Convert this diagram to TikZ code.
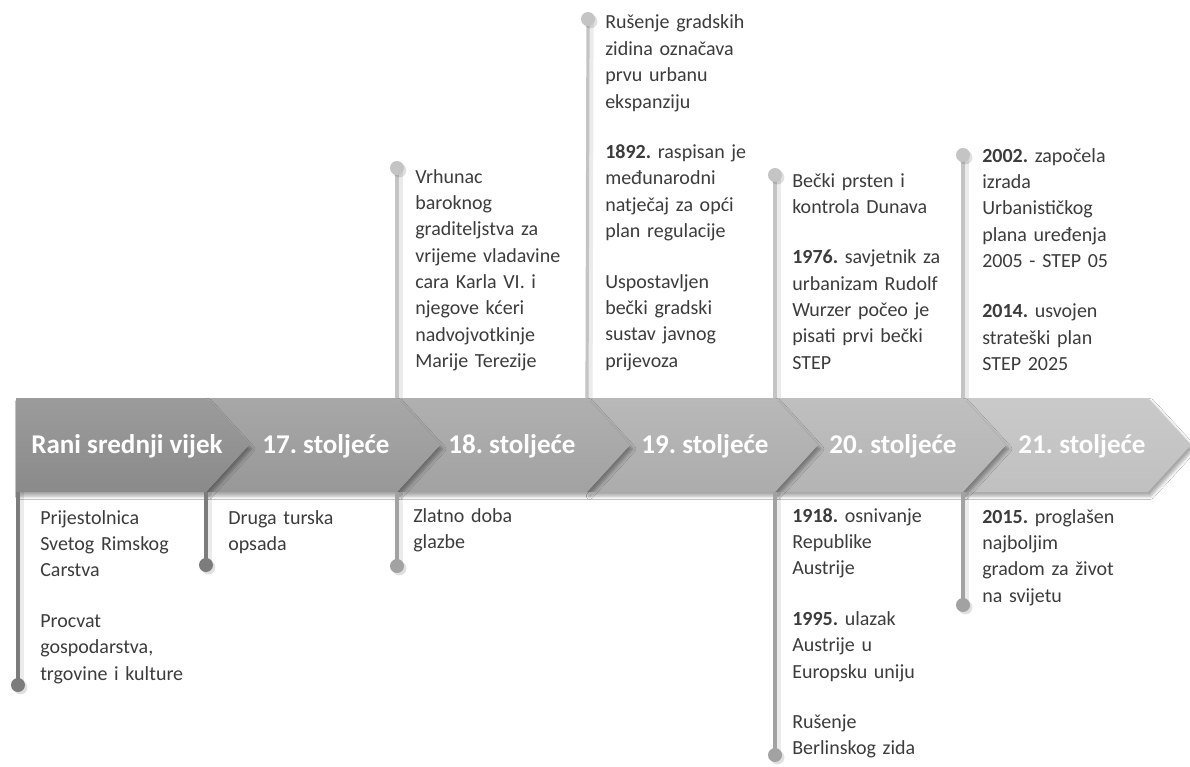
\documentclass[tikz,border=0pt]{standalone}
\usepackage{fontspec}
\setmainfont{Carlito}
\usetikzlibrary{shadows.blur}
\frenchspacing
\definecolor{txtgray}{HTML}{3C3C3C}
\definecolor{segA}{HTML}{8A8A8A}
\definecolor{segB}{HTML}{989898}
\definecolor{segC}{HTML}{A2A2A2}
\definecolor{segD}{HTML}{ACACAC}
\definecolor{segE}{HTML}{B4B4B4}
\definecolor{segF}{HTML}{C0C0C0}
\definecolor{pindark}{HTML}{7C7C7C}
\definecolor{pinmid}{HTML}{A2A2A2}
\definecolor{pinlight}{HTML}{C4C4C4}
\begin{document}
\begin{tikzpicture}[x=0.75pt, y=-0.75pt,
    seg/.style={blur shadow={shadow xshift=2pt, shadow yshift=-3pt, shadow blur radius=2.5pt, shadow opacity=35}},
    segtitle/.style={anchor=base, inner sep=0pt, text=white, font=\fontsize{20.3}{24}\selectfont\bfseries},
    pinline/.style={line width=2.4pt, preaction={draw=black, opacity=0.08, line width=4pt, transform canvas={xshift=2.2pt}}},
    pindot/.style={circle, inner sep=0pt, minimum size=10.5pt, preaction={fill=black, opacity=0.12, transform canvas={shift={(1.8pt,-1.8pt)}}}},
    note/.style={anchor=base west, inner sep=0pt, text width=140pt, align=left, text=txtgray, font=\fontsize{15}{19.8}\selectfont}]
  \useasboundingbox[fill=white] (0,0) rectangle (1190,767);

  % band of centuries, drawn right to left so each tip throws its shadow
  \foreach \xa/\xb/\col in {963/1148/segF, 775/963/segE, 587/775/segD, 397/587/segC, 206/397/segB}
    \path[seg, top color=\col!85!white, bottom color=\col]
      (\xa,398) -- (\xb,398) -- (\xb+43,445) -- (\xb,492) -- (\xa,492) -- (\xa+43,445) -- cycle;
  \path[seg, top color=segA!85!white, bottom color=segA]
    (16,398) -- (206,398) -- (249,445) -- (206,492) -- (16,492) -- cycle;

  \node[segtitle] (h1) at (127,453) {Rani srednji vijek};
  \node[segtitle] (h2) at (326,453) {17. stoljeće};
  \node[segtitle] (h3) at (512,453) {18. stoljeće};
  \node[segtitle] (h4) at (705,453) {19. stoljeće};
  \node[segtitle] (h5) at (893,453) {20. stoljeće};
  \node[segtitle] (h6) at (1082,453) {21. stoljeće};

  % band edges where the pins start
  \coordinate (b1) at (18,492);
  \coordinate (b2) at (206,492);
  \coordinate (b3) at (397,492);
  \coordinate (a3) at (397,398);
  \coordinate (a4) at (587,398);
  \coordinate (a5) at (775,398);
  \coordinate (b5) at (775,492);
  \coordinate (a6) at (963,398);
  \coordinate (b6) at (963,492);

  % pins
  \coordinate (d1) at (18,685);
  \coordinate (d2) at (206,565);
  \coordinate (d3) at (397,566);
  \coordinate (u3) at (397,168);
  \coordinate (u4) at (588,19);
  \coordinate (u5) at (775,175);
  \coordinate (d5) at (775,755);
  \coordinate (u6) at (963,155);
  \coordinate (d6) at (963,605);
  \draw[pinline, pindark] (b1) -- (d1);
  \draw[pinline, pindark] (b2) -- (d2);
  \draw[pinline, pinmid] (b3) -- (d3);
  \draw[pinline, pinlight] (a3) -- (u3);
  \draw[pinline, pinlight] (a4) -- (u4);
  \draw[pinline, pinlight] (a5) -- (u5);
  \draw[pinline, pinmid] (b5) -- (d5);
  \draw[pinline, pinlight] (a6) -- (u6);
  \draw[pinline, pinmid] (b6) -- (d6);
  \node[pindot, fill=pindark] (pd1) at (d1) {};
  \node[pindot, fill=pindark] (pd2) at (d2) {};
  \node[pindot, fill=pinmid] (pd3) at (d3) {};
  \node[pindot, fill=pinlight] (pu3) at (u3) {};
  \node[pindot, fill=pinlight] (pu4) at (u4) {};
  \node[pindot, fill=pinlight] (pu5) at (u5) {};
  \node[pindot, fill=pinmid] (pd5) at (d5) {};
  \node[pindot, fill=pinlight] (pu6) at (u6) {};
  \node[pindot, fill=pinmid] (pd6) at (d6) {};

  % notes below the band
  \node[note] (n1) at (40,524) {Prijestolnica\\Svetog Rimskog\\Carstva\\[18pt]Procvat\\gospodarstva,\\trgovine i kulture};
  \node[note] (n2) at (228,524) {Druga turska\\opsada};
  \node[note] (n3) at (413,522) {Zlatno doba\\glazbe};
  \node[note] (n5) at (792,522) {\textbf{1918.} osnivanje\\Republike\\Austrije\\[18pt]\textbf{1995.} ulazak\\Austrije u\\Europsku uniju\\[18pt]Rušenje\\Berlinskog zida};
  \node[note] (n6) at (982,523) {\textbf{2015.} proglašen\\najboljim\\gradom za život\\na svijetu};

  % notes above the band
  \node[note] (m3) at (415,183) {Vrhunac\\baroknog\\graditeljstva za\\vrijeme vladavine\\cara Karla VI. i\\njegove kćeri\\nadvojvotkinje\\Marije Terezije};
  \node[note] (m4) at (605,29) {Rušenje gradskih\\zidina označava\\prvu urbanu\\ekspanziju\\[18pt]\textbf{1892.} raspisan je\\međunarodni\\natječaj za opći\\plan regulacije\\[18pt]Uspostavljen\\bečki gradski\\sustav javnog\\prijevoza};
  \node[note] (m5) at (792,187) {Bečki prsten i\\kontrola Dunava\\[18pt]\textbf{1976.} savjetnik za\\urbanizam Rudolf\\Wurzer počeo je\\pisati prvi bečki\\STEP};
  \node[note] (m6) at (982,162) {\textbf{2002.} započela\\izrada\\Urbanističkog\\plana uređenja\\2005 - STEP 05\\[18pt]\textbf{2014.} usvojen\\strateški plan\\STEP 2025};
\end{tikzpicture}
\end{document}
